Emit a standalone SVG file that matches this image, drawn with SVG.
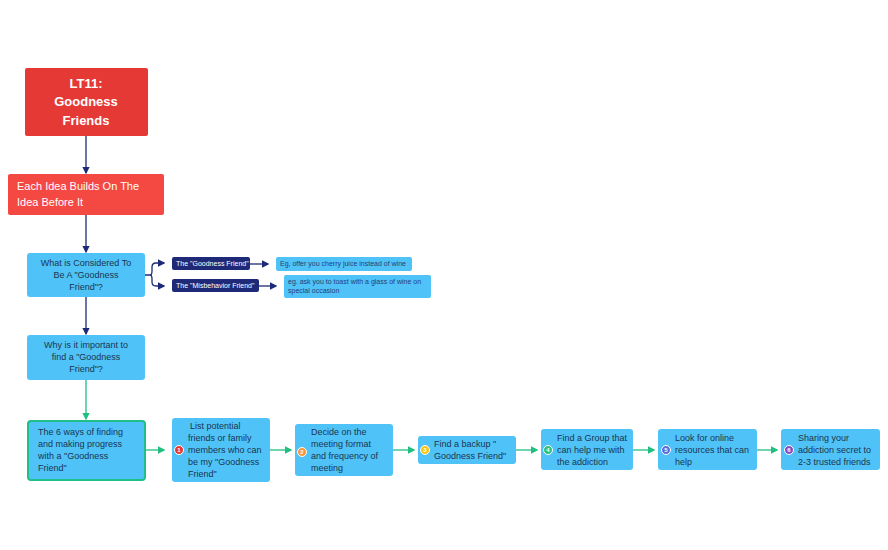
<svg xmlns="http://www.w3.org/2000/svg" width="888" height="550" viewBox="0 0 888 550">
<style>
text{font-family:"Liberation Sans",Arial,sans-serif}
.b{fill:#4fc3f7}
.t{fill:#1b3550;font-size:9px}
.s{fill:#24407a;font-size:7px}
.w{fill:#fff;font-size:7px}
.n{stroke:#1e2a78;stroke-width:1.3;fill:none}
.g{stroke:#1fbf7f;stroke-width:1.3;fill:none}
.bd{fill:#fff;font-size:6px;font-weight:bold;text-anchor:middle}
</style>
<defs>
<marker id="an" markerWidth="6" markerHeight="6" refX="5" refY="3" orient="auto"><path d="M0,0L6,3L0,6z" fill="#1e2a78"/></marker>
<marker id="ag" markerWidth="6" markerHeight="6" refX="5" refY="3" orient="auto"><path d="M0,0L6,3L0,6z" fill="#1fbf7f"/></marker>
</defs>
<rect width="888" height="550" fill="#fff"/>
<g id="connectors">
<path class="n" d="M86,136V173" marker-end="url(#an)"/>
<path class="n" d="M86,215V252" marker-end="url(#an)"/>
<path class="n" d="M86,297V334" marker-end="url(#an)"/>
<path class="n" d="M145,275H150Q152,275 152,271V267Q152,263 156,263H164" marker-end="url(#an)"/>
<path class="n" d="M150,275Q152,275 152,279V282Q152,286 156,286H164"  marker-end="url(#an)"/>
<path class="n" d="M250,264H268" marker-end="url(#an)"/>
<path class="n" d="M259,286H276" marker-end="url(#an)"/>
<path class="g" d="M86,380V419" marker-end="url(#ag)"/>
<path class="g" d="M145,450H164" marker-end="url(#ag)"/>
<path class="g" d="M270,450H291" marker-end="url(#ag)"/>
<path class="g" d="M393,450H414" marker-end="url(#ag)"/>
<path class="g" d="M516,450H537" marker-end="url(#ag)"/>
<path class="g" d="M633,450H654" marker-end="url(#ag)"/>
<path class="g" d="M757,450H777" marker-end="url(#ag)"/>
</g>
<g id="lt11"><rect x="25" y="68" width="123" height="68" rx="2" fill="#e53935"/>
<text fill="#fff" font-size="13" font-weight="bold" text-anchor="middle"><tspan x="86" y="88">LT11:</tspan><tspan x="86" y="106">Goodness</tspan><tspan x="86" y="125">Friends</tspan></text></g>
<g id="idea"><rect x="8" y="174" width="156" height="41" rx="2" fill="#f44842"/>
<text fill="#fff" font-size="11"><tspan x="17" y="190">Each Idea Builds On The</tspan><tspan x="17" y="206">Idea Before It</tspan></text></g>
<g id="what"><rect class="b" x="27" y="253" width="118" height="44" rx="3"/>
<text class="t" text-anchor="middle"><tspan x="86" y="266">What is Considered To</tspan><tspan x="86" y="278">Be A "Goodness</tspan><tspan x="86" y="290">Friend"?</tspan></text></g>
<g id="gf"><rect x="172" y="257" width="78" height="13" rx="2" fill="#1e2a78"/><text class="w" x="176" y="266">The "Goodness Friend"</text></g>
<g id="gfe"><rect class="b" x="276" y="257" width="136" height="14" rx="2"/><text class="s" x="280" y="266">Eg, offer you cherry juice instead of wine</text></g>
<g id="mf"><rect x="172" y="279" width="87" height="13" rx="2" fill="#1e2a78"/><text class="w" x="176" y="288">The "Misbehavior Friend"</text></g>
<g id="mfe"><rect class="b" x="284" y="275" width="147" height="23" rx="2"/><text class="s"><tspan x="288" y="284">eg. ask you to toast with a glass of wine on</tspan><tspan x="288" y="293">special occasion</tspan></text></g>
<g id="why"><rect class="b" x="27" y="335" width="118" height="45" rx="3"/>
<text class="t" text-anchor="middle"><tspan x="86" y="348">Why is it important to</tspan><tspan x="86" y="360">find a "Goodness</tspan><tspan x="86" y="372">Friend"?</tspan></text></g>
<g id="six"><rect class="b" x="28" y="421" width="117" height="59" rx="3" stroke="#1fbf87" stroke-width="2"/>
<text class="t"><tspan x="38" y="435">The 6 ways of finding</tspan><tspan x="38" y="447">and making progress</tspan><tspan x="38" y="459">with a "Goodness</tspan><tspan x="38" y="471">Friend"</tspan></text></g>
<g id="s1"><rect class="b" x="172" y="418" width="98" height="64" rx="3"/><circle cx="179" cy="450" r="4.5" fill="#e53935" stroke="#fff"/><text class="bd" x="179" y="452">1</text>
<text class="t"><tspan x="190" y="429">List potential</tspan><tspan x="188" y="441">friends or family</tspan><tspan x="188" y="453">members who can</tspan><tspan x="188" y="465">be my "Goodness</tspan><tspan x="188" y="477">Friend"</tspan></text></g>
<g id="s2"><rect class="b" x="295" y="424" width="98" height="52" rx="3"/><circle cx="302" cy="452" r="4.5" fill="#f5963a" stroke="#fff"/><text class="bd" x="302" y="454">2</text>
<text class="t"><tspan x="311" y="435">Decide on the</tspan><tspan x="311" y="447">meeting format</tspan><tspan x="311" y="459">and frequency of</tspan><tspan x="311" y="471">meeting</tspan></text></g>
<g id="s3"><rect class="b" x="418" y="436" width="98" height="28" rx="3"/><circle cx="425" cy="450" r="4.5" fill="#f5c518" stroke="#fff"/><text class="bd" x="425" y="452">3</text>
<text class="t"><tspan x="434" y="447">Find a backup "</tspan><tspan x="434" y="459">Goodness Friend"</tspan></text></g>
<g id="s4"><rect class="b" x="541" y="429" width="92" height="41" rx="3"/><circle cx="548" cy="450" r="4.5" fill="#2ec27e" stroke="#fff"/><text class="bd" x="548" y="452">4</text>
<text class="t"><tspan x="557" y="441">Find a Group that</tspan><tspan x="557" y="453">can help me with</tspan><tspan x="557" y="465">the addiction</tspan></text></g>
<g id="s5"><rect class="b" x="658" y="429" width="99" height="41" rx="3"/><circle cx="666" cy="450" r="4.5" fill="#5b6ee1" stroke="#fff"/><text class="bd" x="666" y="452">5</text>
<text class="t"><tspan x="675" y="441">Look for online</tspan><tspan x="675" y="453">resources that can</tspan><tspan x="675" y="465">help</tspan></text></g>
<g id="s6"><rect class="b" x="781" y="429" width="99" height="41" rx="3"/><circle cx="789" cy="450" r="4.5" fill="#7e4fc9" stroke="#fff"/><text class="bd" x="789" y="452">6</text>
<text class="t"><tspan x="798" y="441">Sharing your</tspan><tspan x="798" y="453">addiction secret to</tspan><tspan x="798" y="465">2-3 trusted friends</tspan></text></g>
</svg>
